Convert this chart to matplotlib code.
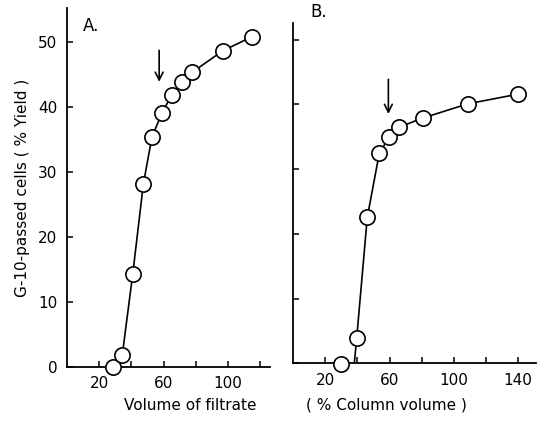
import matplotlib
matplotlib.use("Agg")
import matplotlib.pyplot as plt

# ---- data ----
a_x = [28.5, 34.3, 40.8, 47.4, 52.7, 58.9, 65.0, 71.2, 77.7, 96.6, 115.0]
a_y = [0.0, 1.8, 14.3, 28.2, 35.4, 39.1, 41.9, 43.9, 45.4, 48.7, 50.9]

b_x = [29.7, 39.5, 46.1, 53.6, 59.6, 66.0, 80.6, 108.6, 140.1]
b_y = [-0.1, 3.9, 22.6, 32.5, 34.9, 36.5, 37.9, 40.1, 41.6]
# line in B starts on the axis, not at the first point
b_line_x = [38.0] + b_x[1:]
b_line_y = [0.0] + b_y[1:]

a_arrow = (57.2, 49.2, 43.5)   # x, y start, y tip
b_arrow = (59.2, 44.3, 38.1)

y_ticks = [0, 10, 20, 30, 40, 50]
a_xticks = [20, 40, 60, 80, 100, 120]
a_xlabels = ["20", "", "60", "", "100", ""]
b_xticks = [20, 40, 60, 80, 100, 120, 140]
b_xlabels = ["20", "", "60", "", "100", "", "140"]

plt.rcParams['font.family'] = ['DejaVu Sans']
fs = 11

fig = plt.figure(figsize=(5.37, 4.24), dpi=100)
axA = fig.add_axes([0.1248, 0.135, 0.378, 0.846])
axB = fig.add_axes([0.546, 0.143, 0.452, 0.803])


def style(ax):
    for s in ("top", "right"):
        ax.spines[s].set_visible(False)
    for s in ("left", "bottom"):
        ax.spines[s].set_linewidth(1.3)
    ax.tick_params(direction="in", length=4, width=1.1, labelsize=fs, pad=7)


# ---- panel A ----
axA.plot(a_x, a_y, color="black", lw=1.2, zorder=2)
axA.plot(a_x, a_y, "o", ms=11, mfc="white", mec="black", mew=1.2,
         clip_on=False, zorder=3)
axA.annotate("", xy=(a_arrow[0], a_arrow[2]), xytext=(a_arrow[0], a_arrow[1]),
             arrowprops=dict(arrowstyle="->", lw=1.2, color="black",
                             mutation_scale=14))
axA.set_xlim(0, 126)
axA.set_ylim(0, 55.3)
axA.set_xticks(a_xticks)
axA.set_xticklabels(a_xlabels)
axA.set_yticks(y_ticks)
style(axA)
axA.set_ylabel("G-10-passed cells ( % Yield )", fontsize=fs, labelpad=6)
axA.text(0.08, 0.975, "A.", transform=axA.transAxes, fontsize=fs + 1,
         va="top", ha="left")

# ---- panel B ----
axB.plot(b_line_x, b_line_y, color="black", lw=1.2, zorder=2)
axB.plot(b_x, b_y, "o", ms=11, mfc="white", mec="black", mew=1.2,
         clip_on=False, zorder=3)
axB.annotate("", xy=(b_arrow[0], b_arrow[2]), xytext=(b_arrow[0], b_arrow[1]),
             arrowprops=dict(arrowstyle="->", lw=1.2, color="black",
                             mutation_scale=14))
axB.set_xlim(0, 151)
axB.set_ylim(0, 52.6)
axB.set_xticks(b_xticks)
axB.set_xticklabels(b_xlabels)
axB.set_yticks(y_ticks)
axB.set_yticklabels([])
style(axB)
fig.text(310 / 537, 1 - 12 / 424, "B.", fontsize=fs + 1, va="center",
         ha="left")

# x labels sit on one line below both panels
fig.text(190 / 537, 1 - 405 / 424, "Volume of filtrate", fontsize=fs,
         ha="center", va="center")
fig.text(386 / 537, 1 - 405 / 424, "( % Column volume )", fontsize=fs,
         ha="center", va="center")

fig.savefig("out.png", dpi=100)
